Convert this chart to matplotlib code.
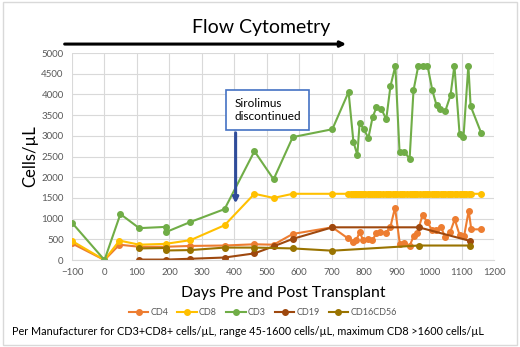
import matplotlib
matplotlib.use("Agg")
import matplotlib.pyplot as plt
from matplotlib.patches import Rectangle

plt.rcParams['font.family'] = ['Lato', 'DejaVu Sans']

# data (day, cells/uL)
cd3_days = [-100, 0, 49, 107, 188, 188, 265, 370, 462, 521, 580, 702, 752, 767, 779, 786,
            798, 813, 826, 838, 853, 868, 881, 896, 909, 924, 940, 952, 967, 982, 995,
            1010, 1023, 1035, 1050, 1066, 1078, 1094, 1106, 1121, 1128, 1161]
cd3_vals = [900, 0, 1110, 770, 800, 670, 920, 1230, 2630, 1950, 2970, 3160, 4060, 2850, 2540, 3310,
            3170, 2950, 3450, 3690, 3650, 3400, 4200, 4690, 2610, 2620, 2440, 4100, 4700, 4700, 4700,
            4100, 3740, 3650, 3600, 3980, 4700, 3040, 2970, 4700, 3720, 3060]

cd8_days = [-100, 0, 46, 107, 188, 265, 370, 462, 521, 580, 702,
            750, 758, 765, 771, 776, 781, 786, 791, 797, 804, 811, 818, 825, 831, 838, 844,
            850, 858, 866, 873, 881, 888, 895, 902, 910, 917, 924, 932, 940, 946, 953, 958,
            963, 971, 980, 987, 994, 1001, 1009, 1015, 1022, 1029, 1036, 1043, 1050, 1058,
            1065, 1072, 1079, 1086, 1094, 1101, 1108, 1115, 1122, 1130, 1161]
cd8_vals = [460, 0, 470, 370, 390, 480, 840, 1600, 1500, 1600, 1600,
            1600, 1600, 1600, 1600, 1600, 1600, 1600, 1600, 1600, 1600, 1600, 1600, 1600, 1600, 1600, 1600,
            1600, 1600, 1600, 1600, 1600, 1600, 1600, 1600, 1600, 1600, 1600, 1600, 1600, 1600, 1600, 1600,
            1600, 1600, 1600, 1600, 1600, 1600, 1600, 1600, 1600, 1600, 1600, 1600, 1600, 1600,
            1600, 1600, 1600, 1600, 1600, 1600, 1600, 1600, 1600, 1600, 1600]

cd4_days = [-100, 0, 46, 107, 188, 265, 370, 462, 521, 580, 702,
            750, 765, 776, 786, 797, 811, 825, 838, 850, 866, 881, 895, 910, 924, 940,
            953, 963, 980, 994, 1009, 1022, 1036, 1050, 1065, 1079, 1094, 1108, 1122, 1130, 1161]
cd4_vals = [400, 0, 370, 320, 320, 340, 350, 380, 370, 630, 790,
            523, 443, 483, 668, 483, 515, 483, 644, 684, 644, 805, 1264, 386, 419, 338,
            588, 644, 1087, 926, 725, 725, 805, 548, 676, 982, 604, 580, 1192, 741, 741]

cd19_days = [107, 188, 265, 370, 462, 521, 580, 702, 968, 1127]
cd19_vals = [10, 10, 30, 60, 160, 330, 510, 790, 790, 460]

nk_days = [107, 188, 188, 265, 370, 462, 580, 702, 968, 1127]
nk_vals = [280, 290, 230, 240, 300, 300, 280, 225, 350, 350]

series = [
    ('CD4', cd4_days, cd4_vals, '#ED7D31'),
    ('CD8', cd8_days, cd8_vals, '#FFC000'),
    ('CD3', cd3_days, cd3_vals, '#70AD47'),
    ('CD19', cd19_days, cd19_vals, '#9E480E'),
    ('CD16CD56', nk_days, nk_vals, '#997300'),
]

fig = plt.figure(figsize=(5.2, 3.47), dpi=100)
ax = fig.add_axes([0.1385, 0.2507, 0.8115, 0.5963])

for name, d, v, c in series:
    ax.plot(d, v, color=c, lw=1.5, marker='o', ms=4, label=name)

ax.set_xlim(-100, 1200)
ax.set_ylim(0, 5000)
ax.set_xticks(range(-100, 1201, 100))
ax.set_yticks(range(0, 5001, 500))
ax.grid(color='#d9d9d9', lw=0.8)
ax.set_axisbelow(True)
for s in ax.spines.values():
    s.set_visible(False)
ax.spines['bottom'].set_visible(True)
ax.spines['bottom'].set_color('#d9d9d9')
ax.tick_params(length=0, labelsize=7, labelcolor='#595959', pad=6)

fig.text(0.058, 0.55, 'Cells/µL', rotation=90, ha='center', va='center', fontsize=12)
fig.text(0.545, 0.155, 'Days Pre and Post Transplant', ha='center', va='center', fontsize=11.3)
fig.text(0.502, 0.922, 'Flow Cytometry', ha='center', va='center', fontsize=14)
fig.text(0.023, 0.046, 'Per Manufacturer for CD3+CD8+ cells/µL, range 45-1600 cells/µL, maximum CD8 >1600 cells/µL',
         ha='left', va='center', fontsize=7.8)

# black arrow under the title
ax.annotate('', xy=(0.671, 0.873), xytext=(0.119, 0.873), xycoords='figure fraction',
            arrowprops=dict(arrowstyle='-|>', color='black', lw=2.2, mutation_scale=8))

# sirolimus annotation
ax.annotate('', xy=(404, 1300), xytext=(404, 3140),
            arrowprops=dict(arrowstyle='-|>', color='#2F4C9A', lw=2.2, mutation_scale=8))
ax.text(400, 3620, 'Sirolimus\ndiscontinued', fontsize=8.5, va='center', ha='left',
        bbox=dict(boxstyle='square,pad=0.7', fc='white', ec='#4472C4', lw=1.2))

fig.legend(loc='center', bbox_to_anchor=(0.505, 0.098), ncol=5, frameon=False,
           fontsize=6.5, handlelength=2.2, columnspacing=1.0, handletextpad=0.2,
           labelcolor='#595959')

fig.patches.append(Rectangle((0.006, 0.006), 0.988, 0.988, transform=fig.transFigure,
                             fill=False, ec='#d9d9d9', lw=1))

fig.savefig('out.png', dpi=100)
